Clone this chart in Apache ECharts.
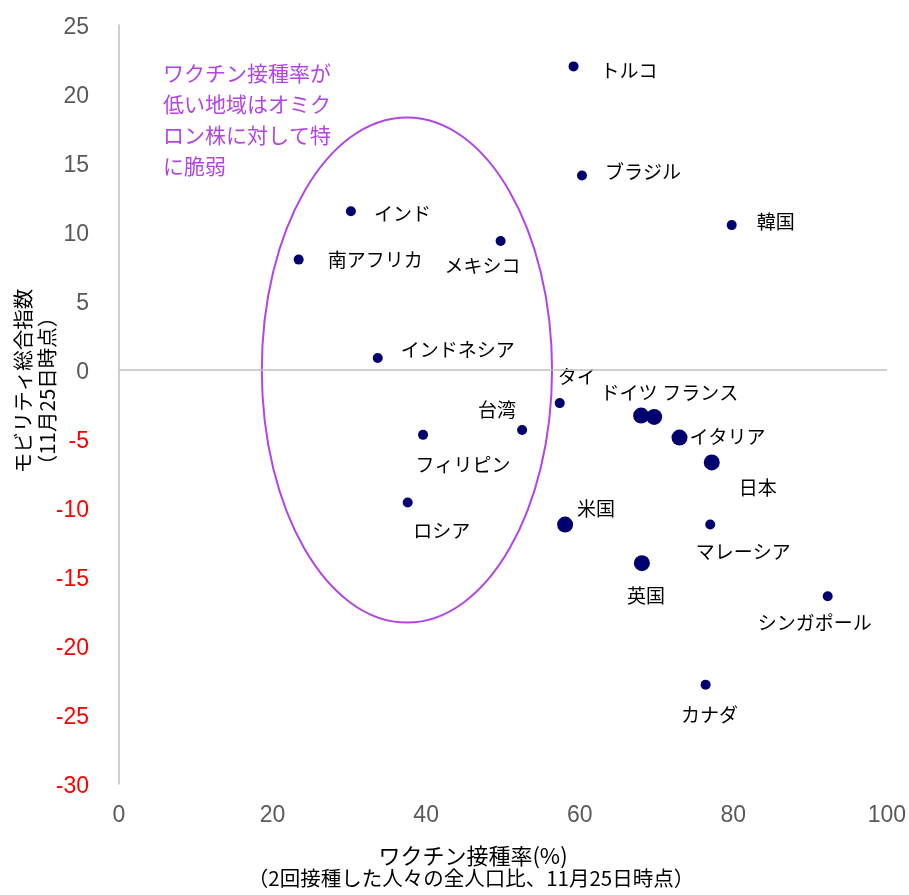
<!DOCTYPE html>
<html>
<head>
<meta charset="utf-8">
<script src="https://cdn.jsdelivr.net/npm/echarts@6/dist/echarts.min.js"></script>
<style>
  html, body { margin: 0; padding: 0; background: #fff; }
  #chart { width: 909px; height: 895px; }
</style>
</head>
<body>
<div id="chart"></div>
<script>
// 国・地域名
const countries = ["トルコ", "ブラジル", "韓国", "インド", "南アフリカ", "メキシコ", "インドネシア",
  "タイ", "台湾", "フィリピン", "ドイツ", "フランス", "イタリア", "日本", "米国",
  "マレーシア", "ロシア", "英国", "シンガポール", "カナダ"];
// ワクチン接種率(%)
const vaccineRate = [59.2, 60.3, 79.8, 30.2, 23.4, 49.7, 33.7,
  57.4, 52.5, 39.6, 68.0, 69.7, 73.0, 77.2, 58.1,
  77.0, 37.6, 68.1, 92.3, 76.4];
// モビリティ総合指数
const mobility = [22.0, 14.1, 10.5, 11.5, 8.0, 9.35, 0.87,
  -2.4, -4.35, -4.7, -3.3, -3.4, -4.9, -6.7, -11.2,
  -11.2, -9.6, -14.0, -16.4, -22.8];
const xTicks = [0, 20, 40, 60, 80, 100];
const yTicks = [-30, -25, -20, -15, -10, -5, 0, 5, 10, 15, 20, 25];

// 大きい点で描く国
const bigDots = ["ドイツ", "フランス", "イタリア", "日本", "米国", "英国"];
// ラベル位置 [dx, dy, align]
const labelPos = {
  "トルコ": [27, 4, "left"], "ブラジル": [23, -4, "left"], "韓国": [25, -3, "left"],
  "インド": [23, 2, "left"], "南アフリカ": [29, 0, "left"], "メキシコ": [-18, 25, "center"],
  "インドネシア": [23, -8, "left"], "タイ": [-2, -26, "left"], "台湾": [-25, -20, "center"],
  "フィリピン": [40, 30, "center"], "ドイツ": [-12, -23, "center"], "フランス": [46, -24, "center"],
  "イタリア": [10, -1, "left"], "日本": [46, 25, "center"], "米国": [12, -16, "left"],
  "マレーシア": [33, 27, "center"], "ロシア": [34, 28, "center"], "英国": [4, 33, "center"],
  "シンガポール": [-13, 26, "center"], "カナダ": [4, 30, "center"]
};
// 楕円 (データ座標): 中心x, 中心y, 半径x, 半径y
const ellipse = [37.5, 0, 18.9, 18.3];

const jp = '"Noto Sans CJK JP", "Noto Sans", sans-serif';
const purple = "#b245e3";
const tickFont = { fontSize: 23, fontFamily: "Liberation Sans, Arial", padding: [6, 0, 0, 0] };

const points = countries.map((name, i) => {
  const p = labelPos[name];
  return {
    name: name,
    value: [vaccineRate[i], mobility[i]],
    symbolSize: bigDots.includes(name) ? 16 : 10,
    label: { offset: [p[0], p[1]], align: p[2] }
  };
});

const myChart = echarts.init(document.getElementById("chart"));
const option = {
  animation: false,
  grid: { left: 119, right: 22, top: 25, bottom: 111 },
  xAxis: {
    type: "value",
    min: xTicks[0],
    max: xTicks[xTicks.length - 1],
    interval: 20,
    axisLine: { show: false },
    axisTick: { show: false },
    splitLine: { show: false },
    axisLabel: { color: "#595959", fontSize: 23, fontFamily: "Liberation Sans, Arial", margin: 20 }
  },
  yAxis: {
    type: "value",
    min: yTicks[0],
    max: yTicks[yTicks.length - 1],
    interval: 5,
    axisLine: { show: true, onZero: false, lineStyle: { color: "#bfbfbf", width: 1.5 } },
    axisTick: { show: false },
    splitLine: { show: false },
    axisLabel: {
      margin: 30,
      formatter: (v) => (v < 0 ? "{neg|" + v + "}" : "{pos|" + v + "}"),
      rich: {
        neg: Object.assign({ color: "#ff0000" }, tickFont),
        pos: Object.assign({ color: "#595959" }, tickFont)
      }
    }
  },
  graphic: [
    {
      type: "text", left: 163, top: 58,
      style: {
        text: "ワクチン接種率が\n低い地域はオミク\nロン株に対して特\nに脆弱",
        fill: purple, font: "21px " + jp, lineHeight: 31
      }
    },
    {
      type: "text", x: 23, y: 381, rotation: Math.PI / 2,
      style: { text: "モビリティ総合指数", fill: "#000", font: "20.5px " + jp, align: "center", verticalAlign: "middle" }
    },
    {
      type: "text", x: 47, y: 391, rotation: Math.PI / 2,
      style: { text: "（11月25日時点）", fill: "#000", font: "20.5px " + jp, align: "center", verticalAlign: "middle" }
    },
    {
      type: "text", x: 473, y: 856,
      style: { text: "ワクチン接種率(%)", fill: "#000", font: "22px " + jp, align: "center", verticalAlign: "middle" }
    },
    {
      type: "text", x: 471, y: 878,
      style: { text: "（2回接種した人々の全人口比、11月25日時点）", fill: "#000", font: "20.5px " + jp, align: "center", verticalAlign: "middle" }
    }
  ],
  series: [
    {
      type: "custom",
      silent: true,
      data: [ellipse],
      renderItem: (params, api) => {
        const c = api.coord([api.value(0), api.value(1)]);
        const s = api.size([api.value(2), api.value(3)]);
        return {
          type: "ellipse",
          shape: { cx: c[0], cy: c[1], rx: s[0], ry: s[1] },
          style: { fill: "none", stroke: purple, lineWidth: 2 }
        };
      },
      z: 1
    },
    {
      type: "scatter",
      data: points,
      itemStyle: { color: "#00006e", opacity: 1 },
      label: {
        show: true,
        position: "inside",
        verticalAlign: "middle",
        formatter: "{b}",
        color: "#000",
        fontSize: 19,
        fontFamily: jp
      },
      markLine: {
        silent: true,
        symbol: "none",
        label: { show: false },
        lineStyle: { color: "#bfbfbf", type: "solid", width: 1.5 },
        data: [{ yAxis: 0 }]
      },
      z: 3
    }
  ]
};
myChart.setOption(option);
</script>
</body>
</html>
